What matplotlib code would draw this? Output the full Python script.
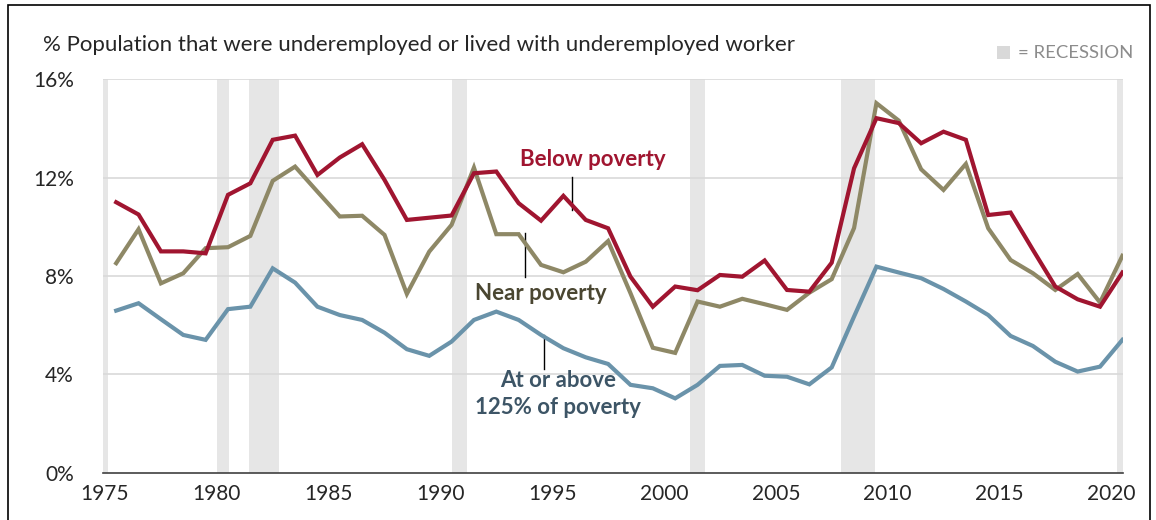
import matplotlib.pyplot as plt
import matplotlib.patches as mpatches
import numpy as np

plt.rcParams['font.family'] = ['Lato', 'DejaVu Sans']

# survey years, plotted at mid-year
years = np.arange(1975, 2021)

below_poverty = [11.0, 10.5, 9.0, 9.0, 8.92, 11.3, 11.77, 13.54, 13.71, 12.11,
                 12.82, 13.36, 11.91, 10.28, 10.37, 10.46, 12.18, 12.25, 10.96, 10.25,
                 11.26, 10.28, 9.94, 7.97, 6.75, 7.57, 7.42, 8.04, 7.97, 8.63,
                 7.43, 7.36, 8.54, 12.38, 14.42, 14.22, 13.4, 13.87, 13.54, 10.48,
                 10.58, 9.06, 7.57, 7.05, 6.75, 8.14]

near_poverty = [8.52, 9.9, 7.7, 8.11, 9.13, 9.17, 9.63, 11.87, 12.45, 11.43,
                10.42, 10.45, 9.67, 7.27, 8.99, 10.08, 12.41, 9.7, 9.7, 8.45,
                8.15, 8.58, 9.42, 7.3, 5.08, 4.87, 6.96, 6.75, 7.07, 6.85,
                6.62, 7.32, 7.87, 9.95, 15.03, 14.32, 12.34, 11.5, 12.56, 9.94,
                8.65, 8.11, 7.43, 8.08, 6.92, 8.82]

above_125 = [6.59, 6.89, 6.24, 5.6, 5.4, 6.65, 6.75, 8.31, 7.73, 6.75,
             6.41, 6.21, 5.69, 5.02, 4.75, 5.33, 6.21, 6.55, 6.21, 5.6,
             5.06, 4.69, 4.42, 3.57, 3.43, 3.02, 3.57, 4.34, 4.38, 3.94,
             3.9, 3.59, 4.28, 6.35, 8.38, 8.14, 7.91, 7.47, 6.96, 6.41,
             5.56, 5.15, 4.51, 4.11, 4.31, 5.4]

# NBER recessions (start, end) in fractional years
recessions = [(1974.9, 1975.15), (1980.0, 1980.55), (1981.45, 1982.8),
              (1990.5, 1991.2), (2001.15, 2001.85), (2007.9, 2009.45),
              (2020.25, 2020.6)]

RED = '#a01530'
TAN = '#8e8866'
BLUE = '#6a93aa'
BAND = '#e6e6e6'

fig = plt.figure(figsize=(11.56, 5.2), dpi=100)
ax = fig.add_axes([0.0891, 0.0912, 0.8824, 0.7562])

for start, end in recessions:
    ax.axvspan(start, end, color=BAND, lw=0, zorder=0)

for v in [4, 8, 12, 16]:
    ax.axhline(v, color='#d9d9d9', lw=1.2, zorder=1)

x = years + 0.5
ax.plot(x, above_125, color=BLUE, lw=3.0, solid_joinstyle='miter', zorder=3)
ax.plot(x, near_poverty, color=TAN, lw=3.0, solid_joinstyle='miter', zorder=3)
ax.plot(x, below_poverty, color=RED, lw=3.0, solid_joinstyle='miter', zorder=4)

ax.set_xlim(1974.91, 2020.53)
ax.set_ylim(0, 16)
ax.set_xticks(range(1975, 2021, 5))
ax.set_yticks([0, 4, 8, 12, 16])
ax.set_yticklabels(['%d%%' % v for v in [0, 4, 8, 12, 16]])
ax.tick_params(axis='both', length=0, labelsize=15, colors='#262626')
ax.tick_params(axis='y', pad=21)
ax.tick_params(axis='x', pad=8)
for side in ['top', 'right', 'left']:
    ax.spines[side].set_visible(False)
ax.spines['bottom'].set_color('#404040')
ax.spines['bottom'].set_linewidth(1.2)
ax.spines['bottom'].set_zorder(5)

# series labels with leader lines
ax.text(1996.8, 12.72, 'Below poverty', color=RED, fontsize=16,
        fontweight='bold', ha='center', va='center')
ax.plot([1995.9, 1995.9], [10.7, 12.04], color='black', lw=1)

ax.text(1994.5, 7.3, 'Near poverty', color='#4a4631', fontsize=16,
        fontweight='bold', ha='center', va='center')
ax.plot([1993.8, 1993.8], [7.96, 9.75], color='black', lw=1)

ax.text(1995.25, 3.2, 'At or above\n125% of poverty', color='#3d5566',
        fontsize=16, fontweight='bold', ha='center', va='center',
        linespacing=1.4)
ax.plot([1994.65, 1994.65], [4.2, 5.6], color='black', lw=1)

fig.text(43 / 1156, 1 - 45 / 520,
         '% Population that were underemployed or lived with underemployed worker',
         fontsize=16, color='#262626', ha='left', va='center')

fig.patches.append(mpatches.Rectangle((997 / 1156, 1 - 59 / 520), 13 / 1156, 13 / 520,
                                      transform=fig.transFigure, color='#d9d9d9', lw=0))
fig.text(1018 / 1156, 1 - 53 / 520, '= RECESSION', fontsize=13.3,
         color='#8c8c8c', ha='left', va='center')

# outer frame
fig.patches.append(mpatches.Rectangle((8 / 1156, -0.02), 1142 / 1156, 1.02 - 5 / 520,
                                      transform=fig.transFigure, fill=False,
                                      edgecolor='black', lw=1.2))

fig.savefig('out.png', dpi=100)
